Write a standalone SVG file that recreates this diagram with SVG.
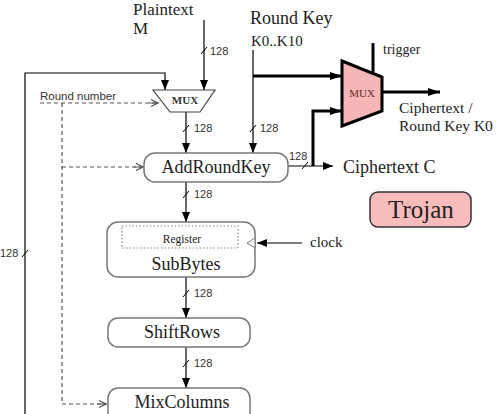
<svg xmlns="http://www.w3.org/2000/svg" width="496" height="414" viewBox="0 0 496 414">
<defs>
<style>
.box{fill:#fff;stroke:#777;stroke-width:1.5}
.ln{fill:none;stroke:#000;stroke-width:1.2}
.thk{fill:none;stroke:#000;stroke-width:3}
.dash{fill:none;stroke:#555;stroke-width:1.2;stroke-dasharray:4 3}
.sl{stroke:#000;stroke-width:1}
.t{font-family:"Liberation Serif",serif;fill:#222}
.n{font-family:"Liberation Sans",sans-serif;font-size:11px;fill:#333}
</style>
<marker id="arr" viewBox="0 0 10 8" refX="10" refY="4" markerWidth="10" markerHeight="8" markerUnits="userSpaceOnUse" orient="auto"><path d="M0,0 L10,4 L0,8 z" fill="#000"/></marker>
<marker id="arrT" viewBox="0 0 12 8" refX="12" refY="4" markerWidth="12" markerHeight="8" markerUnits="userSpaceOnUse" orient="auto"><path d="M0,0 L12,4 L0,8 z" fill="#000"/></marker>
<marker id="open" viewBox="0 0 10 8" refX="10" refY="4" markerWidth="10" markerHeight="8" markerUnits="userSpaceOnUse" orient="auto"><path d="M2,0.5 L9,4 L2,7.5 M0,4 L9,4" fill="none" stroke="#555" stroke-width="1.2"/></marker>
</defs>
<rect width="496" height="414" fill="#fff"/>

<g id="connectors">
<path class="ln" d="M204,20 V90" marker-end="url(#arr)"/>
<path class="ln" d="M25,414 V73 H165 V90" marker-end="url(#arr)"/>
<path class="ln" d="M186,112 V153" marker-end="url(#arr)"/>
<path class="ln" d="M253,50 V153" marker-end="url(#arr)"/>
<path class="thk" d="M253,76 H342" marker-end="url(#arrT)"/>
<path class="ln" d="M288,166 H333" marker-end="url(#arr)"/>
<path class="thk" d="M313,166 V111 H342" marker-end="url(#arrT)"/>
<path class="thk" d="M373,43 V74"/>
<path class="thk" d="M382,92 H440" marker-end="url(#arrT)"/>
<path class="ln" d="M186,182 V222" marker-end="url(#arr)"/>
<path class="ln" d="M302,243 H257" marker-end="url(#arr)"/>
<path class="ln" d="M186,277 V318" marker-end="url(#arr)"/>
<path class="ln" d="M186,347 V388" marker-end="url(#arr)"/>
<path class="dash" d="M40,103 H159" marker-end="url(#open)"/>
<path class="dash" d="M62,103 V404 H107" marker-end="url(#open)"/>
<path class="dash" d="M62,167 H144" marker-end="url(#open)"/>
<line class="sl" x1="201" y1="54" x2="207" y2="47"/>
<line class="sl" x1="183" y1="132" x2="189" y2="125"/>
<line class="sl" x1="250" y1="132" x2="256" y2="125"/>
<line class="sl" x1="183" y1="198" x2="189" y2="191"/>
<line class="sl" x1="183" y1="297" x2="189" y2="290"/>
<line class="sl" x1="183" y1="367" x2="189" y2="360"/>
<line class="sl" x1="302" y1="169" x2="308" y2="162"/>
<line class="sl" x1="22" y1="257" x2="28" y2="250"/>
<text class="n" x="210" y="55">128</text>
<text class="n" x="194" y="132">128</text>
<text class="n" x="260" y="132">128</text>
<text class="n" x="194" y="198">128</text>
<text class="n" x="194" y="297">128</text>
<text class="n" x="194" y="367">128</text>
<text class="n" x="289" y="160">128</text>
<text class="n" x="0" y="257">128</text>
<text x="40" y="100" font-family="Liberation Sans,sans-serif" font-size="11.5" fill="#333">Round number</text>
<text class="t" x="310" y="247" font-size="15">clock</text>
</g>

<g id="plaintext">
<text class="t" x="133" y="15" font-size="17">Plaintext</text>
<text class="t" x="133" y="34" font-size="17">M</text>
</g>

<g id="roundkey">
<text class="t" x="250" y="24" font-size="18">Round Key</text>
<text class="t" x="251" y="46" font-size="15">K0..K10</text>
</g>

<g id="mux1">
<polygon points="153,90 215,90 200,112 170,112" fill="#fff" stroke="#444" stroke-width="1.2"/>
<text x="185" y="104" text-anchor="middle" font-family="Liberation Serif,serif" font-size="11" font-weight="bold" fill="#333">MUX</text>
</g>

<g id="mux2">
<polygon points="342,61 382,77 382,111 342,126" fill="#f4b6b6" stroke="#000" stroke-width="3"/>
<text x="362" y="97" text-anchor="middle" font-family="Liberation Serif,serif" font-size="11" fill="#6a2a2a">MUX</text>
<text class="t" x="383" y="54" font-size="14">trigger</text>
<text class="t" x="399" y="113" font-size="15.5">Ciphertext /</text>
<text class="t" x="399" y="131" font-size="15.5">Round Key K0</text>
</g>

<g id="addroundkey">
<rect class="box" x="144" y="153" width="144" height="29" rx="11"/>
<text class="t" x="216" y="173" font-size="18" text-anchor="middle">AddRoundKey</text>
</g>

<g id="ciphertext">
<text class="t" x="343" y="173" font-size="18">Ciphertext C</text>
</g>

<g id="trojan">
<rect x="370" y="192" width="101" height="35" rx="8" fill="#f8bcbc" stroke="#333" stroke-width="1.5"/>
<text class="t" x="421" y="218" font-size="25" text-anchor="middle">Trojan</text>
</g>

<g id="subbytes">
<rect class="box" x="107" y="222" width="148" height="55" rx="11"/>
<rect x="122" y="226" width="116" height="22" fill="none" stroke="#888" stroke-width="1.2" stroke-dasharray="1.5 2"/>
<text class="t" x="182" y="243" font-size="11.5" text-anchor="middle">Register</text>
<text class="t" x="186" y="270" font-size="18" text-anchor="middle">SubBytes</text>
<polygon points="255,238 247,243 255,248" fill="#fff" stroke="#777" stroke-width="1"/>
</g>

<g id="shiftrows">
<rect class="box" x="108" y="318" width="142" height="29" rx="10"/>
<text class="t" x="182" y="338" font-size="18" text-anchor="middle">ShiftRows</text>
</g>

<g id="mixcolumns">
<rect class="box" x="108" y="388" width="142" height="40" rx="10"/>
<text class="t" x="182" y="408" font-size="18" text-anchor="middle">MixColumns</text>
</g>
</svg>
